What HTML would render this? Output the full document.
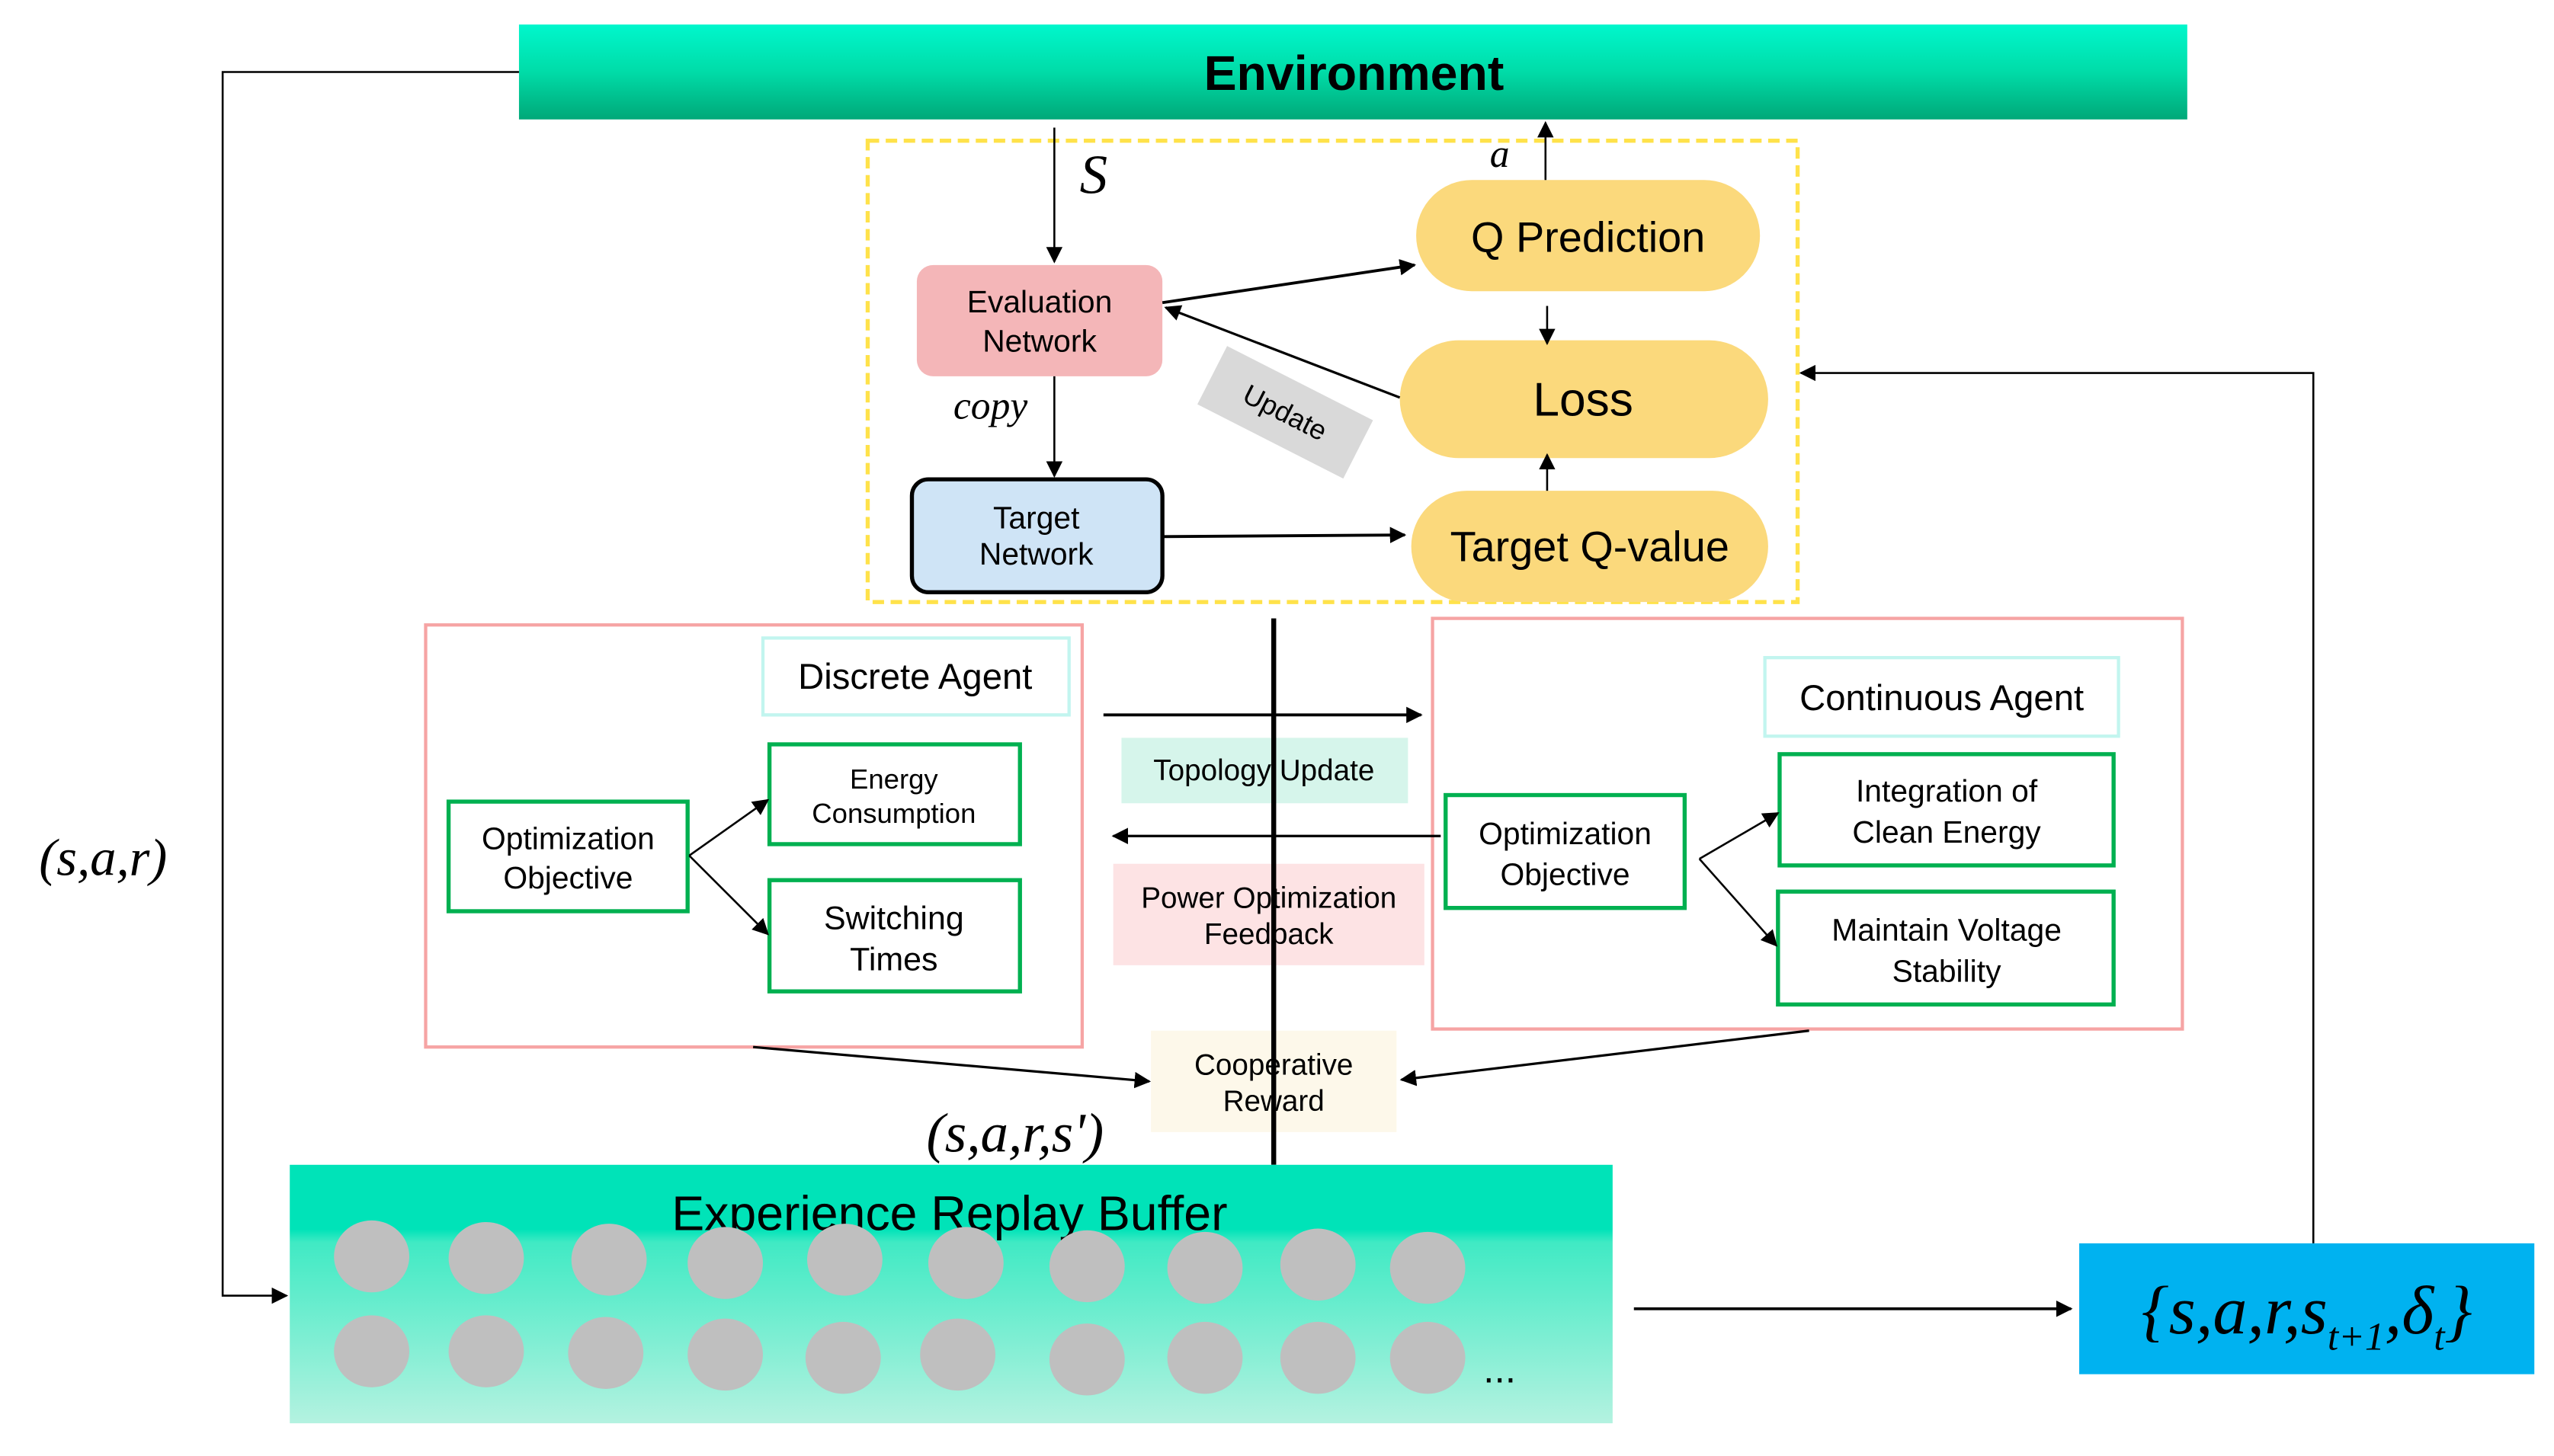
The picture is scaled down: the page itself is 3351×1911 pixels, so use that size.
<!DOCTYPE html>
<html><head><meta charset="utf-8"><style>html,body{margin:0;padding:0;background:#fff}svg{display:block}</style></head>
<body>
<svg width="3351" height="1911" viewBox="0 0 1560 890" preserveAspectRatio="none" xmlns="http://www.w3.org/2000/svg" font-family="Liberation Sans, DejaVu Sans, sans-serif">
<defs>
<linearGradient id="env" x1="0" y1="0" x2="0" y2="1"><stop offset="0" stop-color="#00f7cc"/><stop offset="0.5" stop-color="#00dca8"/><stop offset="1" stop-color="#00a878"/></linearGradient>
<linearGradient id="buf" x1="0" y1="0" x2="0" y2="1"><stop offset="0" stop-color="#00e3b8"/><stop offset="0.25" stop-color="#00e3b8"/><stop offset="0.3" stop-color="#40eac4"/><stop offset="1" stop-color="#b4f2e0"/></linearGradient>
<marker id="ar" markerWidth="10" markerHeight="10" refX="9" refY="5" orient="auto" markerUnits="userSpaceOnUse"><path d="M0,0 L10,5 L0,10 z" fill="#000"/></marker>
</defs>
<!-- Environment -->
<rect x="317" y="15" width="1019" height="58" fill="url(#env)"/>
<text x="827" y="55" font-size="30" font-weight="bold" text-anchor="middle">Environment</text>
<!-- left loop -->
<polyline points="317,44 136,44 136,792 175,792" fill="none" stroke="#000" stroke-width="1.2" marker-end="url(#ar)"/>
<text x="63" y="535" font-size="32" font-style="italic" font-family="Liberation Serif, serif" text-anchor="middle">(s,a,r)</text>
<!-- yellow dashed box -->
<rect x="530" y="86" width="568" height="282" fill="none" stroke="#ffe24a" stroke-width="2.5" stroke-dasharray="7,4"/>
<line x1="644" y1="78" x2="644" y2="160" stroke="#000" stroke-width="1.2" marker-end="url(#ar)"/>
<text x="668" y="118" font-size="34" font-style="italic" font-family="Liberation Serif, serif" text-anchor="middle">S</text>
<rect x="560" y="162" width="150" height="68" rx="10" fill="#f4b6b8"/>
<text x="635" y="191" font-size="19" text-anchor="middle">Evaluation</text>
<text x="635" y="215" font-size="19" text-anchor="middle">Network</text>
<text x="605" y="256" font-size="24" font-style="italic" font-family="Liberation Serif, serif" text-anchor="middle">copy</text>
<line x1="644" y1="230" x2="644" y2="291" stroke="#000" stroke-width="1.2" marker-end="url(#ar)"/>
<rect x="557" y="293" width="153" height="69" rx="10" fill="#cfe4f6" stroke="#000" stroke-width="2.5"/>
<text x="633" y="323" font-size="19" text-anchor="middle">Target</text>
<text x="633" y="345" font-size="19" text-anchor="middle">Network</text>
<rect x="865" y="110" width="210" height="68" rx="34" fill="#fbd97c"/>
<text x="970" y="154" font-size="26" text-anchor="middle">Q Prediction</text>
<rect x="855" y="208" width="225" height="72" rx="36" fill="#fbd97c"/>
<text x="967" y="254" font-size="29" text-anchor="middle">Loss</text>
<rect x="862" y="300" width="218" height="68" rx="34" fill="#fbd97c"/>
<text x="971" y="343" font-size="26" text-anchor="middle">Target Q-value</text>
<line x1="710" y1="185" x2="864" y2="162" stroke="#000" stroke-width="1.8" marker-end="url(#ar)"/>
<line x1="855" y1="243" x2="712" y2="188" stroke="#000" stroke-width="1.5" marker-end="url(#ar)"/>
<line x1="945" y1="187" x2="945" y2="210" stroke="#000" stroke-width="1.2" marker-end="url(#ar)"/>
<line x1="945" y1="300" x2="945" y2="278" stroke="#000" stroke-width="1.2" marker-end="url(#ar)"/>
<line x1="710" y1="328" x2="858" y2="327" stroke="#000" stroke-width="1.8" marker-end="url(#ar)"/>
<line x1="944" y1="110" x2="944" y2="75" stroke="#000" stroke-width="1.2" marker-end="url(#ar)"/>
<text x="916" y="102" font-size="24" font-style="italic" font-family="Liberation Serif, serif" text-anchor="middle">a</text>
<g transform="translate(785,252) rotate(27)"><rect x="-50" y="-20" width="100" height="40" fill="#d9d9d9"/><text x="0" y="6" font-size="17" text-anchor="middle">Update</text></g>
<!-- right loop -->
<polyline points="1413,760 1413,228 1100,228" fill="none" stroke="#000" stroke-width="1.2" marker-end="url(#ar)"/>
<!-- agents -->
<rect x="260" y="382" width="401" height="258" fill="none" stroke="#f6a4a4" stroke-width="2"/>
<rect x="466" y="390" width="187" height="47" fill="#fff" stroke="#c2f5ef" stroke-width="2"/>
<text x="559" y="421" font-size="22" text-anchor="middle">Discrete Agent</text>
<rect x="274" y="490" width="146" height="67" fill="#fff" stroke="#00b050" stroke-width="2.5"/>
<text x="347" y="519" font-size="19" text-anchor="middle">Optimization</text>
<text x="347" y="543" font-size="19" text-anchor="middle">Objective</text>
<rect x="470" y="455" width="153" height="61" fill="#fff" stroke="#00b050" stroke-width="2.5"/>
<text x="546" y="482" font-size="17" text-anchor="middle">Energy</text>
<text x="546" y="503" font-size="17" text-anchor="middle">Consumption</text>
<rect x="470" y="538" width="153" height="68" fill="#fff" stroke="#00b050" stroke-width="2.5"/>
<text x="546" y="568" font-size="20" text-anchor="middle">Switching</text>
<text x="546" y="593" font-size="20" text-anchor="middle">Times</text>
<line x1="421" y1="523" x2="469" y2="489" stroke="#000" stroke-width="1.2" marker-end="url(#ar)"/>
<line x1="421" y1="523" x2="469" y2="571" stroke="#000" stroke-width="1.2" marker-end="url(#ar)"/>
<rect x="875" y="378" width="458" height="251" fill="none" stroke="#f6a4a4" stroke-width="2"/>
<rect x="1078" y="402" width="216" height="48" fill="#fff" stroke="#c2f5ef" stroke-width="2"/>
<text x="1186" y="434" font-size="22" text-anchor="middle">Continuous Agent</text>
<rect x="883" y="486" width="146" height="69" fill="#fff" stroke="#00b050" stroke-width="2.5"/>
<text x="956" y="516" font-size="19" text-anchor="middle">Optimization</text>
<text x="956" y="541" font-size="19" text-anchor="middle">Objective</text>
<rect x="1087" y="461" width="204" height="68" fill="#fff" stroke="#00b050" stroke-width="2.5"/>
<text x="1189" y="490" font-size="19" text-anchor="middle">Integration of</text>
<text x="1189" y="515" font-size="19" text-anchor="middle">Clean Energy</text>
<rect x="1086" y="545" width="205" height="69" fill="#fff" stroke="#00b050" stroke-width="2.5"/>
<text x="1189" y="575" font-size="19" text-anchor="middle">Maintain Voltage</text>
<text x="1189" y="600" font-size="19" text-anchor="middle">Stability</text>
<line x1="1038" y1="525" x2="1086" y2="497" stroke="#000" stroke-width="1.2" marker-end="url(#ar)"/>
<line x1="1038" y1="525" x2="1085" y2="578" stroke="#000" stroke-width="1.2" marker-end="url(#ar)"/>
<!-- middle -->
<line x1="674" y1="437" x2="868" y2="437" stroke="#000" stroke-width="1.8" marker-end="url(#ar)"/>
<rect x="685" y="451" width="175" height="40" fill="#d6f5eb"/>
<text x="772" y="477" font-size="18" text-anchor="middle">Topology Update</text>
<line x1="880" y1="511" x2="680" y2="511" stroke="#000" stroke-width="1.5" marker-end="url(#ar)"/>
<rect x="680" y="528" width="190" height="62" fill="#fde3e4"/>
<text x="775" y="555" font-size="18" text-anchor="middle">Power Optimization</text>
<text x="775" y="577" font-size="18" text-anchor="middle">Feedback</text>
<rect x="703" y="630" width="150" height="62" fill="#fdf8ea"/>
<text x="778" y="657" font-size="18" text-anchor="middle">Cooperative</text>
<text x="778" y="679" font-size="18" text-anchor="middle">Reward</text>
<line x1="778" y1="378" x2="778" y2="712" stroke="#000" stroke-width="3"/>
<line x1="460" y1="640" x2="702" y2="661" stroke="#000" stroke-width="1.5" marker-end="url(#ar)"/>
<line x1="1105" y1="630" x2="856" y2="660" stroke="#000" stroke-width="1.5" marker-end="url(#ar)"/>
<text x="620" y="704" font-size="34" font-style="italic" font-family="Liberation Serif, serif" text-anchor="middle">(s,a,r,s')</text>
<!-- buffer -->
<rect x="177" y="712" width="808" height="158" fill="url(#buf)"/>
<text x="580" y="752" font-size="30" text-anchor="middle">Experience Replay Buffer</text>
<g fill="#bfbfbf">
<ellipse cx="227" cy="768" rx="23" ry="22"/><ellipse cx="297" cy="769" rx="23" ry="22"/><ellipse cx="372" cy="770" rx="23" ry="22"/><ellipse cx="443" cy="772" rx="23" ry="22"/><ellipse cx="516" cy="770" rx="23" ry="22"/><ellipse cx="590" cy="772" rx="23" ry="22"/><ellipse cx="664" cy="774" rx="23" ry="22"/><ellipse cx="736" cy="775" rx="23" ry="22"/><ellipse cx="805" cy="773" rx="23" ry="22"/><ellipse cx="872" cy="775" rx="23" ry="22"/>
<ellipse cx="227" cy="826" rx="23" ry="22"/><ellipse cx="297" cy="826" rx="23" ry="22"/><ellipse cx="370" cy="827" rx="23" ry="22"/><ellipse cx="443" cy="828" rx="23" ry="22"/><ellipse cx="515" cy="830" rx="23" ry="22"/><ellipse cx="585" cy="828" rx="23" ry="22"/><ellipse cx="664" cy="831" rx="23" ry="22"/><ellipse cx="736" cy="830" rx="23" ry="22"/><ellipse cx="805" cy="830" rx="23" ry="22"/><ellipse cx="872" cy="830" rx="23" ry="22"/>
</g>
<text x="916" y="845" font-size="24" text-anchor="middle">...</text>
<line x1="998" y1="800" x2="1265" y2="800" stroke="#000" stroke-width="1.8" marker-end="url(#ar)"/>
<rect x="1270" y="760" width="278" height="80" fill="#00b2f0"/>
<text x="1409" y="815" font-size="42" font-style="italic" font-family="Liberation Serif, serif" text-anchor="middle">{s,a,r,s<tspan font-size="24" dy="10">t+1</tspan><tspan dy="-10">,δ</tspan><tspan font-size="24" dy="10">t</tspan><tspan dy="-10">}</tspan></text>
</svg>
</body></html>
